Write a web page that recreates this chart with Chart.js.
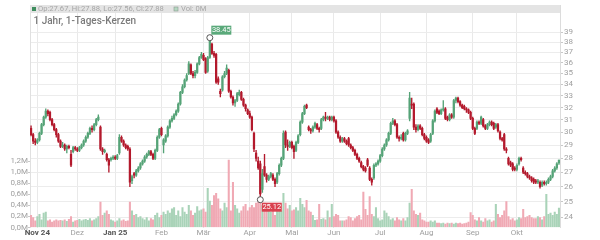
<!DOCTYPE html>
<html>
<head>
<meta charset="utf-8">
<script src="https://cdn.jsdelivr.net/npm/chart.js@4/dist/chart.umd.min.js"></script>
<style>
  html, body { margin: 0; padding: 0; background: #fff; }
  #wrap { width: 600px; height: 240px; position: relative; }
</style>
</head>
<body>
<div id="wrap"><canvas id="chart" width="600" height="240"></canvas></div>
<script>
/* Daten: 1 Jahr, Tageskerzen */
const opens = [
  30.3,29.8,29.3,29.2,29.4,29.9,30.6,31.2,31.7,31.6,
  31.0,30.6,30.2,29.8,29.3,28.9,29.0,28.7,28.9,28.3,
  28.5,28.8,28.7,28.6,28.8,29.0,29.3,29.6,29.9,30.3,
  30.2,30.6,31.0,30.4,28.7,28.5,28.3,27.9,27.9,28.0,
  28.1,28.0,28.4,29.6,29.3,29.0,28.9,28.7,26.4,26.9,
  26.8,27.1,27.3,27.6,27.8,28.1,28.3,28.5,28.3,28.0,
  28.6,29.6,30.3,29.0,29.3,29.7,30.4,30.9,31.1,31.4,
  31.7,32.3,33.3,33.8,34.4,35.0,35.8,35.0,34.8,35.1,
  35.9,36.5,36.7,36.4,35.2,36.5,37.8,36.9,36.8,34.5,
  33.4,33.5,34.7,35.0,35.3,33.4,32.9,32.4,32.6,33.1,
  33.3,32.7,32.2,31.8,31.5,31.2,29.9,28.4,27.8,27.6,
  25.8,27.4,26.8,26.5,26.7,26.8,26.5,26.3,26.9,27.5,
  28.0,30.0,29.0,28.9,29.2,28.9,28.6,29.2,29.8,30.8,
  31.5,32.2,30.4,30.2,30.1,30.4,30.6,30.3,30.3,31.0,
  31.2,31.1,31.2,31.0,31.2,30.9,30.0,29.6,29.3,29.5,
  29.3,29.5,29.0,28.8,28.6,28.3,28.0,27.7,27.4,27.3,
  27.9,27.3,26.5,26.6,27.5,27.6,27.8,28.2,28.7,29.0,
  29.4,29.9,30.7,30.9,30.6,29.6,29.5,29.9,29.4,29.9,
  31.1,32.3,32.3,30.4,30.2,30.5,30.3,29.8,29.6,29.4,
  29.3,29.9,30.9,31.9,31.7,31.5,31.8,31.9,31.2,31.0,
  31.4,31.2,32.6,32.8,32.5,32.2,32.1,31.9,31.8,31.6,
  31.1,30.3,30.3,30.8,30.7,31.0,30.5,30.3,30.6,30.8,
  30.7,30.4,30.6,30.0,29.5,29.8,28.7,28.0,27.7,27.6,
  27.3,27.2,27.6,28.0,27.3,27.0,26.9,26.7,26.6,26.5,
  26.4,26.3,26.3,26.1,26.3,26.2,26.3,26.5,26.7,27.1,27.3,27.67
];
const closes = [
  29.8,29.3,29.2,29.4,29.9,30.6,31.2,31.7,31.5,31.0,
  30.6,30.2,29.8,29.3,28.9,29.0,28.7,28.9,28.8,27.5,
  28.8,28.7,28.6,28.8,29.0,29.3,29.6,29.9,30.3,30.2,
  30.6,31.0,31.2,28.7,28.5,28.6,27.9,27.5,28.0,28.1,
  28.0,28.2,29.6,29.3,29.0,28.8,28.7,26.3,26.7,26.8,
  27.1,27.3,27.6,27.8,28.1,28.3,28.5,28.3,28.0,28.6,
  29.6,30.2,29.8,29.4,29.7,30.4,30.9,31.1,31.4,31.7,
  32.3,33.3,33.8,34.4,34.8,35.9,35.0,34.8,35.1,35.9,
  36.5,36.8,36.3,35.1,36.5,38.2,36.9,36.7,34.2,34.2,
  33.2,34.7,35.0,35.5,33.4,32.9,32.4,32.6,33.2,33.3,
  32.7,32.2,31.9,31.5,31.2,30.2,28.7,28.0,27.3,25.5,
  26.9,26.8,26.5,26.7,26.9,26.5,26.2,26.9,27.5,28.0,
  29.9,29.0,28.9,29.2,28.8,28.5,29.2,29.7,30.8,31.5,
  32.1,32.0,30.2,30.1,30.4,30.7,30.3,30.2,31.0,31.2,
  31.1,31.2,31.0,31.2,30.9,30.0,29.6,29.3,29.5,29.3,
  29.1,29.0,28.8,28.6,28.3,28.0,27.8,27.4,27.2,27.1,
  27.5,26.5,26.3,27.5,27.6,27.8,28.2,28.7,29.0,29.4,
  29.9,30.7,30.9,30.6,29.6,29.5,29.6,29.4,29.9,30.1,
  32.8,32.2,30.4,30.2,30.5,30.3,29.8,29.5,29.3,29.2,
  29.8,30.9,31.7,31.6,31.5,31.8,31.9,31.1,31.0,31.4,
  31.2,32.6,32.8,32.5,32.2,32.0,31.9,31.8,31.6,31.1,
  30.3,29.9,30.8,30.7,31.2,30.5,30.3,30.6,30.8,30.6,
  30.3,30.6,30.1,29.5,29.4,28.7,28.6,27.6,27.5,27.2,
  27.2,27.5,28.0,27.9,27.0,26.9,26.7,26.6,26.4,26.3,
  26.3,26.4,26.0,26.3,26.2,26.3,26.5,26.7,27.1,27.3,27.6,27.88
];
const highs = [
  30.5,29.9,29.5,29.5,30.0,30.7,31.3,31.9,31.8,31.7,
  31.1,30.7,30.3,29.9,29.4,29.2,29.1,29.0,29.0,28.6,
  28.9,28.9,28.8,28.9,29.1,29.4,29.7,30.0,30.4,30.5,
  30.7,31.1,31.4,30.5,28.8,28.7,28.4,28.0,28.1,28.2,
  28.2,28.3,29.8,29.7,29.4,29.1,29.0,28.8,26.8,27.0,
  27.2,27.4,27.7,27.9,28.2,28.4,28.6,28.6,28.4,28.7,
  29.7,30.3,30.4,29.5,29.8,30.5,31.0,31.3,31.5,31.8,
  32.4,33.4,34.0,34.5,35.0,36.1,35.9,35.2,35.3,36.0,
  36.6,37.0,36.9,36.5,36.6,38.45,37.9,37.1,36.9,34.7,
  33.6,34.8,35.2,35.8,35.4,33.5,33.0,32.7,33.3,33.5,
  33.4,32.8,32.3,31.9,31.7,31.3,30.0,28.6,28.1,27.8,
  27.2,28.3,26.9,26.8,27.0,26.9,26.6,27.0,27.6,28.1,
  30.1,30.1,29.4,29.3,29.3,29.0,29.3,29.8,30.9,31.6,
  32.2,32.3,30.5,30.3,30.5,30.8,30.7,30.4,31.1,31.3,
  31.6,31.3,31.3,31.3,31.3,31.0,30.1,29.7,29.6,29.6,
  29.4,29.6,29.1,28.9,28.7,28.4,28.1,27.8,27.5,27.4,
  28.0,27.4,26.6,27.6,27.7,27.9,28.3,28.8,29.1,29.5,
  30.0,30.8,31.1,31.0,30.7,29.7,29.8,30.0,30.0,30.2,
  33.3,32.8,32.4,30.6,30.6,30.6,30.4,29.9,29.7,29.5,
  29.9,31.0,31.8,32.0,31.8,31.9,32.6,32.0,31.3,31.5,
  31.5,32.7,32.9,32.9,32.6,32.3,32.2,32.0,31.9,31.7,
  31.2,30.4,30.9,30.9,31.3,31.1,30.6,30.7,30.9,30.9,
  30.8,30.7,30.7,30.1,29.6,29.9,28.8,28.1,27.8,27.7,
  27.4,27.6,28.1,28.1,27.4,27.1,27.0,26.8,26.7,26.6,
  26.5,26.5,26.4,26.4,26.4,26.4,26.6,26.8,27.2,27.4,27.7,27.88
];
const lows = [
  29.7,29.1,29.0,29.1,29.3,29.8,30.5,31.1,31.3,30.9,
  30.5,30.1,29.6,29.2,28.8,28.8,28.6,28.4,28.7,27.4,
  28.4,28.6,28.5,28.5,28.7,28.9,29.2,29.5,29.8,30.0,
  30.1,30.5,30.9,28.6,28.3,28.4,27.8,27.0,27.8,27.9,
  27.9,27.9,28.3,29.2,28.9,28.7,28.6,26.0,26.2,26.6,
  26.7,27.0,27.2,27.5,27.7,28.0,28.2,28.2,27.9,27.9,
  28.5,29.5,29.7,28.4,29.2,29.6,30.3,30.8,31.0,31.3,
  31.6,32.2,33.2,33.7,34.3,34.9,34.9,34.6,34.6,35.0,
  35.8,36.4,36.2,35.0,35.1,36.4,36.8,36.5,34.1,34.0,
  32.9,33.4,34.6,34.9,33.3,32.8,32.2,32.1,32.5,33.0,
  32.6,32.1,31.7,31.4,31.1,30.1,28.5,27.8,27.2,25.12,
  25.6,26.7,26.3,26.4,26.6,26.4,26.0,26.2,26.8,27.4,
  27.9,28.8,28.6,28.8,28.7,28.0,28.5,29.1,29.7,30.7,
  31.4,31.9,30.1,29.9,30.0,30.3,30.2,30.0,30.2,30.9,
  30.9,31.0,30.9,30.9,30.8,29.9,29.5,29.2,29.2,29.2,
  29.0,28.9,28.7,28.5,28.2,27.9,27.7,27.3,27.1,27.0,
  27.4,26.4,26.1,26.5,27.4,27.5,27.7,28.1,28.6,28.9,
  29.3,29.8,30.6,30.5,29.5,29.3,29.4,29.3,29.3,29.8,
  30.9,31.9,30.2,30.0,30.1,30.2,29.7,29.4,29.2,29.1,
  29.2,29.8,30.8,31.5,31.4,31.4,31.7,31.0,30.9,30.9,
  31.1,31.1,32.4,32.4,32.1,31.9,31.8,31.6,31.5,31.0,
  30.2,29.8,30.2,30.6,30.6,30.4,30.2,30.2,30.5,30.5,
  30.2,30.3,30.0,29.4,29.3,28.6,28.4,27.5,27.4,27.1,
  27.1,27.1,27.5,27.8,26.9,26.8,26.6,26.5,26.3,26.2,
  26.2,26.2,25.9,26.0,26.1,26.1,26.2,26.4,26.6,27.0,27.2,27.56
];
// Volumen in Mio.
const volumes = [
  0.22,0.18,0.12,0.20,0.24,0.14,0.26,0.28,0.12,0.14,
  0.10,0.12,0.14,0.12,0.13,0.12,0.14,0.11,0.15,0.20,
  0.10,0.12,0.13,0.15,0.12,0.14,0.15,0.13,0.16,0.12,
  0.14,0.16,0.20,0.46,0.22,0.26,0.30,0.24,0.14,0.12,
  0.10,0.12,0.16,0.12,0.14,0.11,0.12,0.46,0.30,0.22,
  0.24,0.18,0.20,0.16,0.14,0.18,0.12,0.16,0.14,0.22,
  0.26,0.18,0.22,0.28,0.24,0.30,0.26,0.34,0.36,0.22,
  0.30,0.20,0.36,0.28,0.24,0.40,0.30,0.22,0.26,0.38,
  0.30,0.32,0.34,0.28,0.71,0.48,0.40,0.58,0.62,0.52,
  0.34,0.30,0.44,0.36,1.22,0.30,0.82,0.40,0.34,0.26,
  0.30,0.38,0.42,0.30,0.36,0.40,0.36,0.44,0.46,0.48,
  0.40,0.44,0.30,0.34,0.28,0.32,0.22,0.34,0.40,0.30,
  0.62,0.44,0.34,0.40,0.30,0.32,0.36,0.30,0.53,0.42,
  0.36,0.49,0.30,0.28,0.22,0.13,0.14,0.42,0.15,0.16,
  0.14,0.30,0.18,0.42,0.20,0.24,0.22,0.12,0.12,0.12,
  0.14,0.20,0.18,0.12,0.16,0.20,0.22,0.14,0.64,0.33,
  0.22,0.56,0.24,0.20,0.36,0.16,0.12,0.14,0.30,0.26,
  0.20,0.14,0.16,0.12,0.18,0.14,0.12,0.16,0.12,0.18,
  0.44,0.69,0.30,0.24,0.22,0.26,0.14,0.12,0.10,0.10,
  0.12,0.10,0.12,0.08,0.08,0.07,0.08,0.06,0.08,0.07,
  0.08,0.06,0.08,0.07,0.08,0.06,0.07,0.08,0.10,0.27,
  0.22,0.14,0.12,0.18,0.12,0.10,0.16,0.12,0.14,0.10,
  0.12,0.42,0.24,0.18,0.22,0.30,0.47,0.20,0.14,0.16,
  0.12,0.14,0.18,0.16,0.33,0.18,0.20,0.22,0.18,0.16,
  0.16,0.20,0.18,0.14,0.20,0.60,0.24,0.26,0.22,0.28,0.24,0.35
];

// Monatsbeschriftung (Index der Kerze, Text)
const monthIdx = [3, 22, 40, 62, 82, 104, 124, 144, 166, 188, 210, 231];
const monthLabels = ['Nov 24', 'Dez', 'Jan 25', 'Feb', 'Mär', 'Apr', 'Mai', 'Jun', 'Jul', 'Aug', 'Sep', 'Okt'];
const boldLabels = ['Nov 24', 'Jan 25'];
const priceTicks = [24, 25, 26, 27, 28, 29, 30, 31, 32, 33, 34, 35, 36, 37, 38, 39];
const volTicks = [0, 0.2, 0.4, 0.6, 0.8, 1.0, 1.2];

const headerText = 'Op:27.67, Hi:27.88, Lo:27.56, Cl:27.88';
const volText = 'Vol: 0M';
const titleText = '1 Jahr, 1-Tages-Kerzen';

/* Farben */
const GREEN = '#55a377';
const RED = '#b3192c';
const VOL_GREEN = '#a9d3b8';
const VOL_RED = '#f0a9b4';
const FONT = 'Roboto, "Liberation Sans", sans-serif';

const labels = opens.map((_, i) => i);
const isUp = opens.map((o, i) => closes[i] >= o);

// Kopfzeile, Titel und Hoch/Tief-Markierungen
const overlayPlugin = {
    id: 'overlay',
    afterDraw(chart) {
        const ctx = chart.ctx;
        const area = chart.chartArea;
        const xs = chart.scales.x;
        const yP = chart.scales.yP;
        ctx.save();

        // graue Kopfleiste
        ctx.fillStyle = '#e4e4e4';
        ctx.fillRect(area.left, 5, area.right - area.left, 8);
        ctx.font = '7.6px ' + FONT;
        ctx.textBaseline = 'middle';
        ctx.fillStyle = '#3f8d5e';
        ctx.fillRect(32, 7, 4, 4);
        ctx.fillStyle = '#a6a6a6';
        ctx.fillText(headerText, 38, 9.2);
        ctx.fillStyle = '#b5d8c1';
        ctx.fillRect(174, 7, 4, 4);
        ctx.strokeStyle = '#8a9a90';
        ctx.lineWidth = 0.6;
        ctx.strokeRect(174, 7, 4, 4);
        ctx.fillStyle = '#a6a6a6';
        ctx.fillText(volText, 181, 9.2);

        // Titel
        ctx.font = '500 10px ' + FONT;
        ctx.fillStyle = '#7a7a7a';
        ctx.fillText(titleText, 33.5, 21.5);

        // Markierungen Hoch / Tief
        const hi = Math.max(...highs);
        const lo = Math.min(...lows);
        const hiIdx = highs.indexOf(hi);
        const loIdx = lows.indexOf(lo);
        const marks = [
            { x: xs.getPixelForValue(hiIdx), y: yP.getPixelForValue(hi), v: hi, c: '#5aa97a', dy: -12 },
            { x: xs.getPixelForValue(loIdx), y: yP.getPixelForValue(lo), v: lo, c: '#d9414f', dy: 3 }
        ];
        ctx.font = '7.5px ' + FONT;
        marks.forEach(m => {
            const bx = m.x + 1.5, by = m.y + m.dy;
            ctx.fillStyle = m.c;
            ctx.fillRect(bx, by, 20, 9);
            ctx.fillStyle = '#fff';
            ctx.textAlign = 'center';
            ctx.fillText(m.v.toFixed(2), bx + 10, by + 4.8);
            ctx.beginPath();
            ctx.arc(m.x, m.y, 3, 0, Math.PI * 2);
            ctx.fillStyle = '#fff';
            ctx.fill();
            ctx.strokeStyle = '#555';
            ctx.lineWidth = 1;
            ctx.stroke();
        });
        ctx.restore();
    }
};

new Chart(document.getElementById('chart'), {
    data: {
        labels: labels,
        datasets: [
            {
                type: 'bar',
                label: 'Body',
                yAxisID: 'yP',
                data: opens.map((o, i) => [o, closes[i]]),
                backgroundColor: isUp.map(u => u ? GREEN : RED),
                barThickness: 1.6,
                minBarLength: 1,
                grouped: false,
                order: 1
            },
            {
                type: 'bar',
                label: 'Docht',
                yAxisID: 'yP',
                data: lows.map((l, i) => [l, highs[i]]),
                backgroundColor: isUp.map(u => u ? GREEN : RED),
                barThickness: 0.7,
                grouped: false,
                order: 2
            },
            {
                type: 'bar',
                label: 'Volumen',
                yAxisID: 'yV',
                data: volumes,
                backgroundColor: isUp.map(u => u ? VOL_GREEN : VOL_RED),
                barThickness: 1.4,
                grouped: false,
                order: 3
            }
        ]
    },
    options: {
        responsive: false,
        animation: false,
        layout: { padding: { top: 4, left: 0, right: 0, bottom: 0 } },
        plugins: { legend: { display: false }, tooltip: { enabled: false } },
        scales: {
            x: {
                type: 'category',
                offset: true,
                afterBuildTicks: s => { s.ticks = monthIdx.map(v => ({ value: v })); },
                afterFit: s => { s.height = 12.5; },
                grid: { offset: false, color: '#e9e9e9', lineWidth: 1, tickLength: 0, drawTicks: false },
                border: { display: false },
                ticks: {
                    autoSkip: false,
                    maxRotation: 0,
                    padding: 1,
                    callback: v => monthLabels[monthIdx.indexOf(v)],
                    font: c => ({ family: FONT, size: 8, weight: boldLabels.includes(monthLabels[monthIdx.indexOf(c.tick && c.tick.value)]) ? 'bold' : 'normal' }),
                    color: c => boldLabels.includes(monthLabels[monthIdx.indexOf(c.tick && c.tick.value)]) ? '#555' : '#a0a0a0'
                }
            },
            yP: {
                type: 'logarithmic',
                position: 'right',
                min: 23.35,
                max: 41.81,
                afterBuildTicks: s => { s.ticks = priceTicks.map(v => ({ value: v })); },
                afterFit: s => { s.width = 40; },
                grid: { color: '#ececec', tickLength: 3, tickColor: '#c8c8c8' },
                border: { display: true, color: '#dcdcdc' },
                ticks: {
                    padding: 1,
                    color: '#a0a0a0',
                    font: { family: FONT, size: 8 },
                    callback: v => String(v)
                }
            },
            yV: {
                type: 'linear',
                position: 'left',
                min: 0,
                max: 4.015,
                afterBuildTicks: s => { s.ticks = volTicks.map(v => ({ value: v })); },
                afterFit: s => { s.width = 30; },
                grid: { drawOnChartArea: false, tickLength: 2, tickColor: '#c8c8c8' },
                border: { display: true, color: '#e0e0e0' },
                ticks: {
                    padding: 0,
                    color: '#a0a0a0',
                    font: { family: FONT, size: 8 },
                    callback: v => v.toFixed(1).replace('.', ',') + 'M'
                }
            }
        }
    },
    plugins: [overlayPlugin]
});
</script>
</body>
</html>
